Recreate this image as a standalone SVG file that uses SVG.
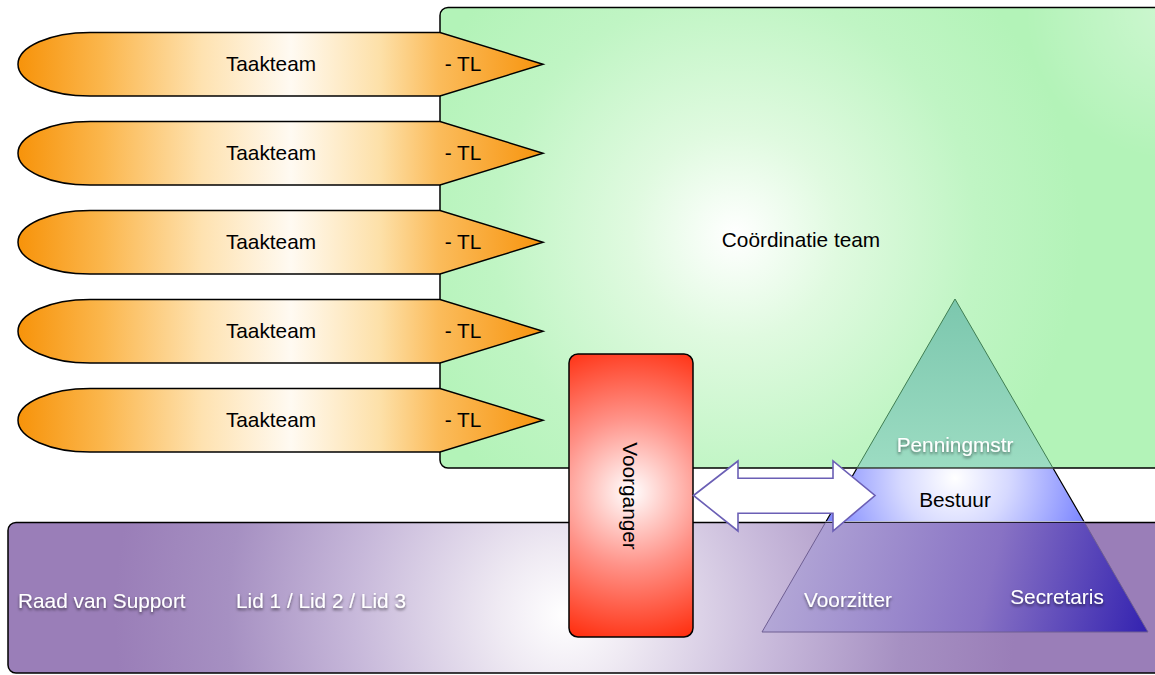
<svg xmlns="http://www.w3.org/2000/svg" width="1155" height="675" viewBox="0 0 1155 675">
  <style>
    text { font-family: "Liberation Sans", Arial, Helvetica, sans-serif; font-size: 20.8px; }
    .dark { fill: #000000; }
    .light { fill: #ffffff; filter: url(#shadow); }
    .mid { text-anchor: middle; }
    .frame { stroke: #000000; stroke-width: 1.5; }
  </style>
  <defs>
    <filter id="shadow" x="-20%" y="-50%" width="140%" height="200%">
      <feDropShadow dx="0" dy="2" stdDeviation="1.6" flood-color="#000000" flood-opacity="0.55"/>
    </filter>
    <radialGradient id="gGreen" gradientUnits="userSpaceOnUse" cx="735" cy="235" r="345">
      <stop offset="0" stop-color="#ffffff"/>
      <stop offset="0.3" stop-color="#e0fae0"/>
      <stop offset="0.7" stop-color="#c0f5c4"/>
      <stop offset="1" stop-color="#b3f3b8"/>
    </radialGradient>
    <radialGradient id="gGreenCorner" gradientUnits="userSpaceOnUse" cx="1175" cy="10" r="150">
      <stop offset="0" stop-color="#ffffff" stop-opacity="0.35"/>
      <stop offset="1" stop-color="#ffffff" stop-opacity="0"/>
    </radialGradient>
    <radialGradient id="gPurple" gradientUnits="userSpaceOnUse" cx="565" cy="615" r="450">
      <stop offset="0" stop-color="#ffffff"/>
      <stop offset="0.15" stop-color="#efeaf3"/>
      <stop offset="0.47" stop-color="#c7b8da"/>
      <stop offset="0.75" stop-color="#a690c2"/>
      <stop offset="1" stop-color="#9a7eb8"/>
    </radialGradient>
    <linearGradient id="gOrange" x1="0" y1="0" x2="1" y2="0">
      <stop offset="0" stop-color="#f7930a"/>
      <stop offset="0.16" stop-color="#fbb64c"/>
      <stop offset="0.35" stop-color="#fee2b0"/>
      <stop offset="0.52" stop-color="#fffaf2"/>
      <stop offset="0.69" stop-color="#fde0a8"/>
      <stop offset="0.8" stop-color="#fbbc5c"/>
      <stop offset="1" stop-color="#f7940e"/>
    </linearGradient>
    <radialGradient id="gRed" gradientUnits="userSpaceOnUse" cx="631" cy="492" r="165">
      <stop offset="0" stop-color="#ffffff"/>
      <stop offset="0.45" stop-color="#ff9288"/>
      <stop offset="1" stop-color="#ff2200"/>
    </radialGradient>
    <linearGradient id="gTeal" gradientUnits="userSpaceOnUse" x1="0" y1="300" x2="0" y2="468">
      <stop offset="0" stop-color="#7cc7ae"/>
      <stop offset="1" stop-color="#9cdcc2"/>
    </linearGradient>
    <radialGradient id="gBlue" gradientUnits="userSpaceOnUse" cx="955" cy="478" r="135">
      <stop offset="0" stop-color="#ffffff"/>
      <stop offset="0.4" stop-color="#d6d9ff"/>
      <stop offset="1" stop-color="#7c86ff"/>
    </radialGradient>
    <linearGradient id="gViolet" gradientUnits="userSpaceOnUse" x1="790" y1="545" x2="1148" y2="632">
      <stop offset="0" stop-color="#b2a6d6"/>
      <stop offset="0.55" stop-color="#8872c4"/>
      <stop offset="1" stop-color="#3322b0"/>
    </linearGradient>
    <clipPath id="clipTop"><rect x="700" y="280" width="460" height="187.2"/></clipPath>
    <clipPath id="clipMid"><rect x="700" y="468.8" width="460" height="52.4"/></clipPath>
    <clipPath id="clipBot"><rect x="700" y="522.8" width="460" height="120"/></clipPath>
    <path id="arrowShape" d="M90,0 H440 L543,31.75 L440,63.5 H90 A72,31.75 0 0 1 90,0 Z"/>
  </defs>

  <rect width="1155" height="675" fill="#ffffff"/>

  <g id="coordinatie-team">
    <rect x="440" y="7.5" width="730" height="460.5" rx="8" fill="url(#gGreen)" class="frame"/>
    <rect x="441" y="8.5" width="720" height="458" fill="url(#gGreenCorner)"/>
    <text x="801" y="247" class="dark mid">Coördinatie team</text>
  </g>

  <g id="raad-van-support">
    <rect x="8" y="522.5" width="1162" height="150.5" rx="8" fill="url(#gPurple)" class="frame"/>
    <text x="18" y="608" class="light">Raad van Support</text>
    <text x="236" y="608" class="light">Lid 1 / Lid 2 / Lid 3</text>
  </g>

  <g id="bestuur">
    <g clip-path="url(#clipTop)">
      <polygon points="955,299 1148,632 762,632" fill="url(#gTeal)" stroke="#3f7d52" stroke-width="1"/>
    </g>
    <g clip-path="url(#clipMid)">
      <polygon points="955,299 1148,632 762,632" fill="url(#gBlue)" stroke="#000000" stroke-width="1.2"/>
    </g>
    <g clip-path="url(#clipBot)">
      <polygon points="955,299 1148,632 762,632" fill="url(#gViolet)" stroke="#6e5e92" stroke-width="1"/>
    </g>
    <text x="955" y="452" class="light mid">Penningmstr</text>
    <text x="955" y="507" class="dark mid">Bestuur</text>
    <text x="848" y="607" class="light mid">Voorzitter</text>
    <text x="1057" y="604" class="light mid">Secretaris</text>
  </g>

  <g id="taakteam-1">
    <use href="#arrowShape" x="0" y="32.5" fill="url(#gOrange)" class="frame"/>
    <text x="271" y="71" class="dark mid">Taakteam</text>
    <text x="463" y="71" class="dark mid">- TL</text>
  </g>
  <g id="taakteam-2">
    <use href="#arrowShape" x="0" y="121.5" fill="url(#gOrange)" class="frame"/>
    <text x="271" y="160" class="dark mid">Taakteam</text>
    <text x="463" y="160" class="dark mid">- TL</text>
  </g>
  <g id="taakteam-3">
    <use href="#arrowShape" x="0" y="210.5" fill="url(#gOrange)" class="frame"/>
    <text x="271" y="249" class="dark mid">Taakteam</text>
    <text x="463" y="249" class="dark mid">- TL</text>
  </g>
  <g id="taakteam-4">
    <use href="#arrowShape" x="0" y="299.5" fill="url(#gOrange)" class="frame"/>
    <text x="271" y="338" class="dark mid">Taakteam</text>
    <text x="463" y="338" class="dark mid">- TL</text>
  </g>
  <g id="taakteam-5">
    <use href="#arrowShape" x="0" y="388.5" fill="url(#gOrange)" class="frame"/>
    <text x="271" y="427" class="dark mid">Taakteam</text>
    <text x="463" y="427" class="dark mid">- TL</text>
  </g>

  <g id="voorganger">
    <rect x="569" y="354" width="124" height="283" rx="9" fill="url(#gRed)" class="frame"/>
    <text x="0" y="0" class="dark mid" dominant-baseline="central" transform="translate(630,496) rotate(90)">Voorganger</text>
  </g>

  <g id="connectors">
    <path d="M693.5,495.5 L738,461 L738,478.3 L833,478.3 L833,461 L875,495.5 L833,531 L833,513.3 L738,513.3 L738,531 Z" fill="#ffffff" stroke="#6b5fb5" stroke-width="1.6" stroke-linejoin="miter"/>
  </g>
</svg>
